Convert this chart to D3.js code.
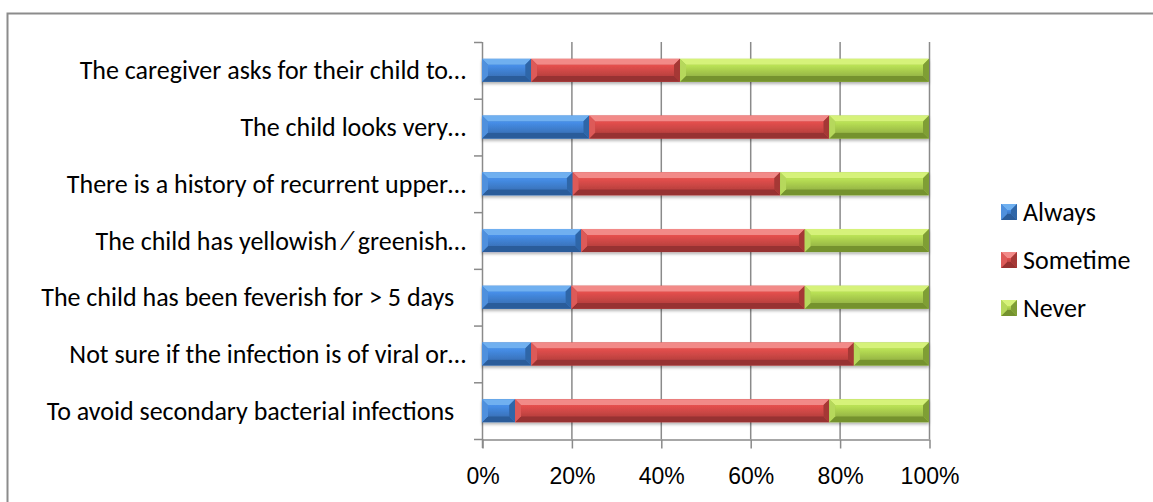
<!DOCTYPE html>
<html>
<head>
<meta charset="utf-8">
<script src="https://cdn.jsdelivr.net/npm/d3@7"></script>
<style>
  body { margin: 0; background: #fff; }
  svg { display: block; font-family: Calibri, Carlito, Lato, sans-serif; }
</style>
</head>
<body>
<svg width="1153" height="502"></svg>
<script>
var categories = [
    'The caregiver asks for their child to\u2026',
    'The child looks very\u2026',
    'There is a history of recurrent upper\u2026',
    'The child has yellowish \u2044 greenish\u2026',
    'The child has been feverish for > 5 days  ',
    'Not sure if the infection is of viral or\u2026',
    'To avoid secondary bacterial infections  '
];
var seriesNames = ['Always', 'Sometime', 'Never'];
var always = [11, 24, 20.3, 22.2, 20, 11, 7.4];
var sometime = [33.3, 53.7, 46.4, 50, 52.2, 72.2, 70.3];
var never = [55.7, 22.3, 33.3, 27.8, 27.8, 16.8, 22.3];
var xTicks = [0, 20, 40, 60, 80, 100];

// face / light / dark shades for each series
var shades = {
    Always: { face: '#3f7fcf', top: '#6fb0f0', bottom: '#2a5c9a', left: '#4f90dd', right: '#2f66a8' },
    Sometime: { face: '#cc4745', top: '#f28a88', bottom: '#973130', left: '#dd5a58', right: '#a53836' },
    Never: { face: '#a6c94c', top: '#d6f27a', bottom: '#74922e', left: '#b6d85c', right: '#7f9e35' }
};

var rows = categories.map(function (c, i) {
    return { cat: c, Always: always[i], Sometime: sometime[i], Never: never[i] };
});

var svg = d3.select('svg');

// outer frame (only top/left visible, rest is cropped)
svg.append('rect')
    .attr('x', 7.5).attr('y', 13.5)
    .attr('width', 1200).attr('height', 600)
    .attr('fill', 'none').attr('stroke', '#8c8c8c').attr('stroke-width', 2);

var x = d3.scaleLinear().domain([0, 100]).range([482, 929]);
var y = d3.scaleBand().domain(categories).range([42, 439]).paddingInner(0.594).paddingOuter(0.297);

// grid lines
svg.append('g').selectAll('line').data(xTicks.slice(1)).enter().append('line')
    .attr('x1', function (d) { return x(d) + 0.5; })
    .attr('x2', function (d) { return x(d) + 0.5; })
    .attr('y1', 42).attr('y2', 439)
    .attr('stroke', '#8a8a8a').attr('stroke-width', 1.5);

// x axis
var xAxis = svg.append('g')
    .attr('transform', 'translate(0.5,439.5)')
    .call(d3.axisBottom(x).tickValues(xTicks).tickFormat(function (d) { return d + '%'; }).tickSizeInner(9).tickSizeOuter(0).tickPadding(19));
xAxis.select('.domain').attr('stroke', '#8a8a8a').attr('stroke-width', 1.5);
xAxis.selectAll('line').attr('stroke', '#8a8a8a').attr('stroke-width', 1.5);
xAxis.selectAll('text').attr('font-size', 23).attr('fill', '#000').attr('font-family', null);

// y axis line and ticks at band boundaries
var yAxis = svg.append('g');
yAxis.append('line')
    .attr('x1', x(0) + 0.5).attr('x2', x(0) + 0.5)
    .attr('y1', y.range()[0]).attr('y2', y.range()[1] + 9)
    .attr('stroke', '#8a8a8a').attr('stroke-width', 1.5);
yAxis.selectAll('.ytick').data(d3.range(categories.length + 1)).enter().append('line')
    .attr('class', 'ytick')
    .attr('x1', x(0) - 8).attr('x2', x(0))
    .attr('y1', function (i) { return y.range()[0] + i * y.step() + 0.5; })
    .attr('y2', function (i) { return y.range()[0] + i * y.step() + 0.5; })
    .attr('stroke', '#8a8a8a').attr('stroke-width', 1.5);
yAxis.selectAll('text').data(categories).enter().append('text')
    .attr('x', 466)
    .attr('y', function (d) { return y(d) + y.bandwidth() / 2; })
    .attr('dy', '0.35em')
    .attr('text-anchor', 'end')
    .attr('font-size', 26)
    .style('white-space', 'pre')
    .attr('xml:space', 'preserve')
    .text(function (d) { return d; });

// drop shadow
var defs = svg.append('defs');
var f = defs.append('filter').attr('id', 'shadow').attr('x', '-5%').attr('y', '-20%').attr('width', '110%').attr('height', '160%');
f.append('feDropShadow').attr('dx', 0).attr('dy', 2).attr('stdDeviation', 1.5).attr('flood-color', '#000').attr('flood-opacity', 0.3);

var stack = d3.stack().keys(seriesNames);
var stacked = stack(rows);

function bevel(g, x0, y0, w, h, s) {
    var b = Math.min(6, w / 2);
    var x1 = x0 + w, y1 = y0 + h;
    g.append('rect').attr('x', x0).attr('y', y0).attr('width', w).attr('height', h).attr('fill', s.face);
    g.append('polygon').attr('points', [[x0, y0], [x1, y0], [x1 - b, y0 + b], [x0 + b, y0 + b]].join(' ')).attr('fill', s.top);
    g.append('polygon').attr('points', [[x0, y1], [x1, y1], [x1 - b, y1 - b], [x0 + b, y1 - b]].join(' ')).attr('fill', s.bottom);
    g.append('polygon').attr('points', [[x0, y0], [x0 + b, y0 + b], [x0 + b, y1 - b], [x0, y1]].join(' ')).attr('fill', s.left);
    g.append('polygon').attr('points', [[x1, y0], [x1 - b, y0 + b], [x1 - b, y1 - b], [x1, y1]].join(' ')).attr('fill', s.right);
    g.append('rect').attr('x', x0 + b).attr('y', y0 + b).attr('width', Math.max(0, w - 2 * b)).attr('height', h - 2 * b)
        .attr('fill', 'url(#face-' + s.key + ')');
}

seriesNames.forEach(function (k) {
    var s = shades[k];
    s.key = k;
    var lg = defs.append('linearGradient').attr('id', 'face-' + k).attr('x1', 0).attr('y1', 0).attr('x2', 0).attr('y2', 1);
    lg.append('stop').attr('offset', 0).attr('stop-color', d3.color(s.face).brighter(0.35));
    lg.append('stop').attr('offset', 1).attr('stop-color', d3.color(s.face).darker(0.25));
});

var barsG = svg.append('g').attr('filter', 'url(#shadow)');
stacked.forEach(function (layer) {
    var s = shades[layer.key];
    layer.forEach(function (d) {
        var g = barsG.append('g');
        bevel(g, x(d[0]), y(d.data.cat), x(d[1]) - x(d[0]), y.bandwidth(), s);
    });
});

// legend
var legendY = [212, 260, 308];
var legend = svg.append('g').selectAll('g').data(seriesNames).enter().append('g')
    .attr('transform', function (d, i) { return 'translate(1001,' + legendY[i] + ')'; });
legend.each(function (k) {
    var g = d3.select(this);
    bevel(g, 0, -8, 16, 16, shades[k]);
});
legend.append('text')
    .attr('x', 22).attr('dy', '0.35em')
    .attr('font-size', 26)
    .text(function (d) { return d; });
</script>
</body>
</html>
